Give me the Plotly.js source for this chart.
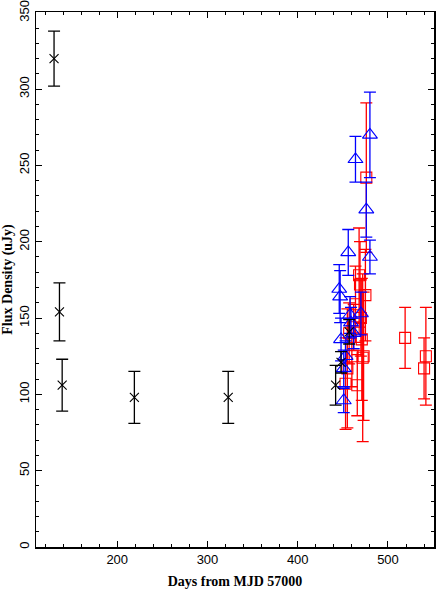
<!DOCTYPE html>
<html>
<head>
<meta charset="utf-8">
<script src="https://cdn.plot.ly/plotly-3.0.1.min.js"></script>
<style>
  html, body { margin: 0; padding: 0; background: #ffffff; }
  #graphique { width: 436px; height: 589px; }
</style>
</head>
<body>
<div id="graphique"></div>
<script>
// Points noirs (croix) : jours depuis MJD 57000, flux et erreur
const jours_noir = [130, 136, 139, 219, 323, 442, 448, 457];
const flux_noir = [320, 154, 106, 98, 98, 106, 121, 141];
const err_noir = [18, 19, 17, 17, 17, 13, 7, 8];

// Points bleus (triangles)
const jours_bleu = [446, 447, 448, 451, 451, 453, 456, 458, 459, 462, 464, 470, 476, 480, 480];
const flux_bleu = [169, 164, 136, 117, 96, 125, 193, 152, 147, 140, 254, 153, 221, 270, 190];
const err_bleu = [16, 17, 14, 12, 8, 10, 15, 12, 10, 10, 15, 14, 18, 28, 11];

// Points rouges (carrés)
const jours_rouge = [453, 455, 457, 460, 462, 464, 466, 468, 469, 470, 471, 472, 473, 475, 476, 519, 540, 542];
const flux_rouge = [107, 117, 140, 125, 144, 159, 106, 178, 172, 150, 136, 124, 125, 165, 242, 137, 117, 125];
const err_rouge = [30, 39, 20, 20, 15, 25, 20, 31, 28, 25, 40, 55, 42, 30, 49, 20, 20, 32];

// Graduations des axes
const graduations_x = [200, 300, 400, 500];
const graduations_y = [0, 50, 100, 150, 200, 250, 300, 350];

function serie(x, y, err, couleur, symbole, taille) {
    return {
        x: x,
        y: y,
        type: "scatter",
        mode: "markers",
        marker: {symbol: symbole, size: taille, color: couleur, line: {color: couleur, width: 1.1}},
        error_y: {type: "data", array: err, visible: true, color: couleur, thickness: 1.3, width: 6},
        hoverinfo: "skip",
        showlegend: false
    };
}

let donnee = [
    serie(jours_rouge, flux_rouge, err_rouge, "#ff0000", "square-open", 11),
    serie(jours_bleu, flux_bleu, err_bleu, "#0000ff", "triangle-up-open", 13),
    serie(jours_noir, flux_noir, err_noir, "#000000", "x-thin-open", 9)
];

let axe_commun = {
    showgrid: false,
    zeroline: false,
    showline: true,
    linecolor: "#000000",
    linewidth: 1.5,
    mirror: "ticks",
    ticks: "inside",
    ticklen: 6,
    tickwidth: 1,
    tickcolor: "#000000",
    ticklabeloverflow: "allow",
    tickfont: {family: "Liberation Sans, Arial, sans-serif", size: 13, color: "#000000"}
};

let police_titre = {family: "Liberation Serif, DejaVu Serif, serif", size: 14, color: "#000000", weight: "bold"};

let apparence = {
    width: 436,
    height: 589,
    margin: {l: 36, r: 2, t: 12, b: 42},
    paper_bgcolor: "#ffffff",
    plot_bgcolor: "#ffffff",
    xaxis: Object.assign({}, axe_commun, {
        range: [110, 551],
        tickvals: graduations_x,
        minor: {dtick: 20, tick0: 0, ticks: "inside", ticklen: 3, tickcolor: "#000000", tickwidth: 1},
        title: {text: "Days from MJD 57000", standoff: 10, font: police_titre}
    }),
    yaxis: Object.assign({}, axe_commun, {
        range: [0, 350.5],
        tickvals: graduations_y,
        tickangle: -90,
        minor: {dtick: 10, tick0: 0, ticks: "inside", ticklen: 3, tickcolor: "#000000", tickwidth: 1},
        title: {text: "Flux Density (uJy)", standoff: 2, font: police_titre}
    })
};

Plotly.newPlot("graphique", donnee, apparence, {displayModeBar: false, staticPlot: true});
</script>
</body>
</html>
